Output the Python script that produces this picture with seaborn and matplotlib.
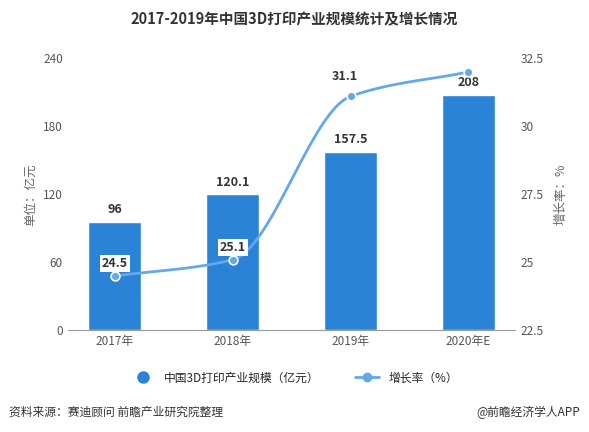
import numpy as np
import pandas as pd
import matplotlib
matplotlib.use("Agg")
import matplotlib.pyplot as plt
import seaborn as sns
from matplotlib.lines import Line2D

years = ["2017年", "2018年", "2019年", "2020年E"]
scale = [96, 120.1, 157.5, 208]
growth = [24.5, 25.1, 31.1, 32]
growth_labels = ["24.5", "25.1", "31.1", ""]

sns.set_style("white")
plt.rcParams["font.family"] = ["Noto Sans CJK SC", "DejaVu Sans"]

bar_color = "#2a83d6"
line_color = "#64a8ea"

fig = plt.figure(figsize=(5.89, 4.32), dpi=100)
ax = fig.add_axes([0.115, 0.235, 0.76, 0.63])
df = pd.DataFrame({"year": years, "scale": scale})
sns.barplot(data=df, x="year", y="scale", color=bar_color, width=0.45, ax=ax, saturation=1)
ax.set_ylim(0, 240)
ax.set_yticks([0, 60, 120, 180, 240])
ax.set_xlabel("")
ax.set_ylabel("单位：亿元", color="#666666", fontsize=9)
ax.tick_params(colors="#555555", labelsize=8.5, length=0)
for s in ["top", "right", "left"]:
    ax.spines[s].set_visible(False)
ax.spines["bottom"].set_color("#999999")
for i, v in enumerate(scale):
    ax.text(i, v + 5, f"{v:g}", ha="center", va="bottom", fontsize=9, fontweight="bold", color="#333333")

ax2 = ax.twinx()
ax2.set_ylim(22.5, 32.5)
ax2.set_yticks([22.5, 25, 27.5, 30, 32.5])
ax2.set_yticklabels(["22.5", "25", "27.5", "30", "32.5"])
ax2.tick_params(colors="#555555", labelsize=8.5, length=0)
ax2.set_ylabel("增长率：%", color="#666666", fontsize=9, rotation=90, labelpad=8)
for s in ax2.spines.values():
    s.set_visible(False)

# monotone cubic (Fritsch-Carlson) curve through the points
x = np.arange(len(growth), dtype=float)
y = np.array(growth, dtype=float)
d = np.diff(y)
m = np.zeros_like(y)
m[0], m[-1] = d[0], d[-1]
for i in range(1, len(y) - 1):
    m[i] = 0 if d[i - 1] * d[i] <= 0 else 2 / (1 / d[i - 1] + 1 / d[i])
cx, cy = [], []
t = np.linspace(0, 1, 40)
for i in range(len(y) - 1):
    h00 = 2 * t**3 - 3 * t**2 + 1
    h10 = t**3 - 2 * t**2 + t
    h01 = -2 * t**3 + 3 * t**2
    h11 = t**3 - t**2
    cx.extend(x[i] + t)
    cy.extend(h00 * y[i] + h10 * m[i] + h01 * y[i + 1] + h11 * m[i + 1])
ax2.plot(cx, cy, color=line_color, lw=2)
sns.scatterplot(x=x, y=y, color=line_color, s=40, edgecolor="white", linewidth=1.2, ax=ax2, zorder=5)
for i, (v, lab) in enumerate(zip(growth, growth_labels)):
    if not lab:
        continue
    if i < 2:
        ax2.text(i, v + 0.45, lab, ha="center", va="center", fontsize=9, fontweight="bold", color="#333333",
                 bbox=dict(boxstyle="square,pad=0.15", fc="white", ec="none"))
    else:
        ax2.text(i - 0.05, v + 0.5, lab, ha="center", va="bottom", fontsize=9, fontweight="bold", color="#333333")

fig.text(0.5, 0.955, "2017-2019年中国3D打印产业规模统计及增长情况", ha="center", va="center",
         fontsize=10.5, fontweight="bold", color="#333333")

handles = [Line2D([], [], marker="o", ls="none", color=bar_color, markersize=8),
           Line2D([], [], marker="o", color=line_color, lw=2, markersize=6)]
fig.legend(handles, ["中国3D打印产业规模（亿元）", "增长率（%）"], loc="center", bbox_to_anchor=(0.5, 0.125),
           ncol=2, frameon=False, fontsize=8.5, columnspacing=3, handlelength=2)

fig.text(0.015, 0.045, "资料来源：赛迪顾问 前瞻产业研究院整理", fontsize=8.5, color="#333333", va="center")
fig.text(0.985, 0.045, "@前瞻经济学人APP", fontsize=8.5, color="#333333", va="center", ha="right")

fig.savefig("out.png", dpi=100)
